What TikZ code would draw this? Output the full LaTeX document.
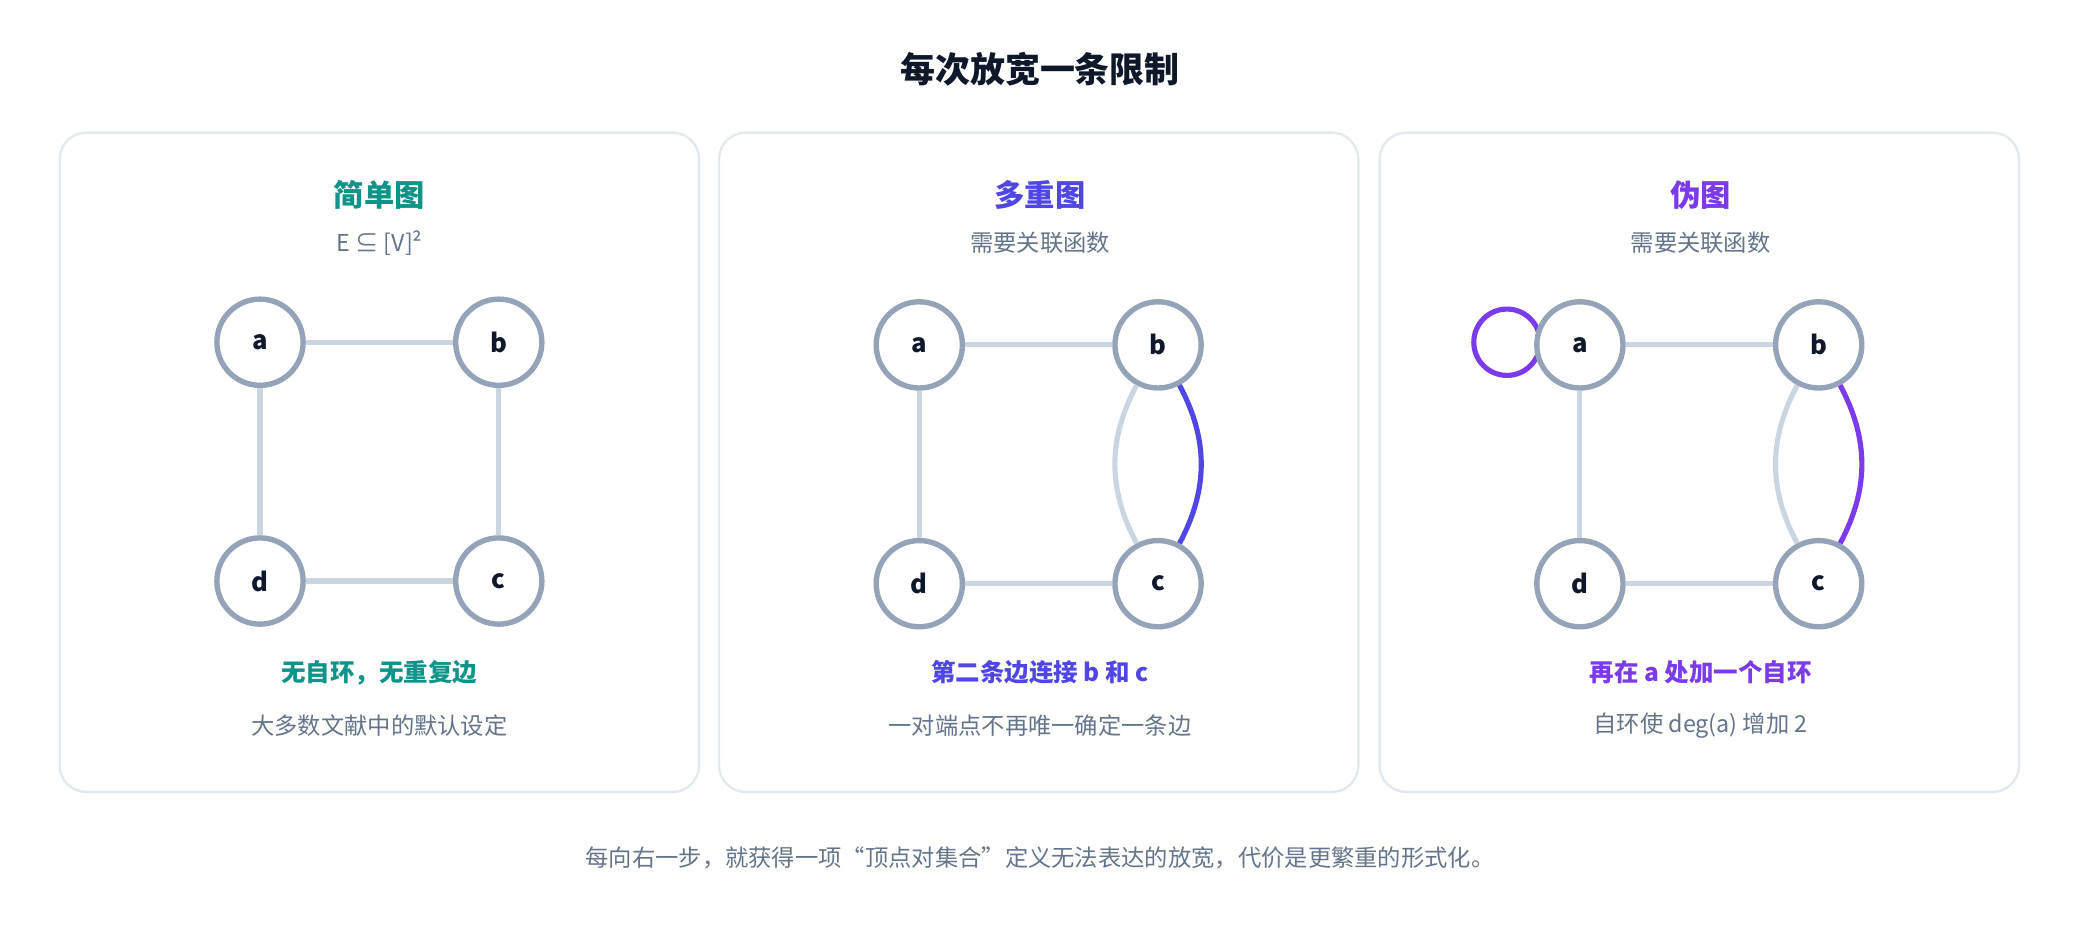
\documentclass[tikz,border=0pt]{standalone}
\usepackage{fontspec}
\setmainfont{Noto Sans CJK SC}
\usepackage{tikz}
\usetikzlibrary{positioning}
\definecolor{ink}{HTML}{0F172A}
\definecolor{muted}{HTML}{64748B}
\definecolor{frame}{HTML}{E2E8F0}
\definecolor{ring}{HTML}{94A3B8}
\definecolor{edgegray}{HTML}{CBD5E1}
\definecolor{teal}{HTML}{0D9488}
\definecolor{indigo}{HTML}{4F46E5}
\definecolor{violet}{HTML}{7C3AED}
\tikzset{
  vtx/.style={circle,draw=ring,line width=2.3pt,fill=white,minimum size=1.3cm,inner sep=0pt,font=\bfseries\fontsize{11}{13}\selectfont,text=ink},
  edg/.style={draw=edgegray,line width=2.2pt},
  panel/.style={draw=frame,line width=1pt,rounded corners=0.4cm,fill=white},
  head/.style={font=\bfseries\fontsize{13}{15}\selectfont},
  note/.style={font=\fontsize{10}{12}\selectfont,text=muted},
  caption/.style={font=\bfseries\fontsize{10.5}{12}\selectfont},
}
\begin{document}
\begin{tikzpicture}[x=0.02cm,y=-0.02cm]
    \useasboundingbox (0,0) rectangle (1568,709);
    % Title
    \node[font=\bfseries\fontsize{15}{18}\selectfont,text=ink] (title) at (784,52) {每次放宽一条限制};
    % Panels
    \foreach \dx in {0,497,995} {
        \draw[panel] (45+\dx,100) rectangle (527+\dx,597);
    }
    % Simple graph
    \node[head,text=teal] (h1) at (286,147) {简单图};
    \node[note] (s1) at (286,183) {E ⊆ [V]²};
    \node[vtx] (a1) at (196,258) {a};
    \node[vtx] (b1) at (376,258) {b};
    \node[vtx] (d1) at (196,438) {d};
    \node[vtx] (c1) at (376,438) {c};
    \draw[edg] (a1) -- (b1);
    \draw[edg] (b1) -- (c1);
    \draw[edg] (c1) -- (d1);
    \draw[edg] (d1) -- (a1);
    \node[caption,text=teal] (t1) at (286,507) {无自环，无重复边};
    \node[note] (u1) at (286,547) {大多数文献中的默认设定};
    % Multigraph
    \node[head,text=indigo] (h2) at (784,147) {多重图};
    \node[note] (s2) at (784,183) {需要关联函数};
    \node[vtx] (a2) at (693,260) {a};
    \node[vtx] (b2) at (873,260) {b};
    \node[vtx] (d2) at (693,440) {d};
    \node[vtx] (c2) at (873,440) {c};
    \draw[edg] (a2) -- (b2);
    \draw[edg] (b2) to[bend right=28] (c2);
    \draw[indigo,line width=2.2pt] (b2) to[bend left=28] (c2);
    \draw[edg] (c2) -- (d2);
    \draw[edg] (d2) -- (a2);
    \node[caption,text=indigo] (t2) at (784,507) {第二条边连接 b 和 c};
    \node[note] (u2) at (784,547) {一对端点不再唯一确定一条边};
    % Pseudograph
    \node[head,text=violet] (h3) at (1282,147) {伪图};
    \node[note] (s3) at (1282,183) {需要关联函数};
    \coordinate (loop3) at (1136,258);
    \draw[violet,line width=2.2pt] (loop3) circle (25);
    \node[vtx] (a3) at (1191,260) {a};
    \node[vtx] (b3) at (1371,260) {b};
    \node[vtx] (d3) at (1191,440) {d};
    \node[vtx] (c3) at (1371,440) {c};
    \draw[edg] (a3) -- (b3);
    \draw[edg] (b3) to[bend right=28] (c3);
    \draw[violet,line width=2.2pt] (b3) to[bend left=28] (c3);
    \draw[edg] (c3) -- (d3);
    \draw[edg] (d3) -- (a3);
    \node[caption,text=violet] (t3) at (1282,507) {再在 a 处加一个自环};
    \node[note] (u3) at (1282,547) {自环使 deg(a) 增加 2};
    % Footer
    \node[note] (foot) at (784,647) {每向右一步，就获得一项“顶点对集合”定义无法表达的放宽，代价是更繁重的形式化。};
\end{tikzpicture}
\end{document}
